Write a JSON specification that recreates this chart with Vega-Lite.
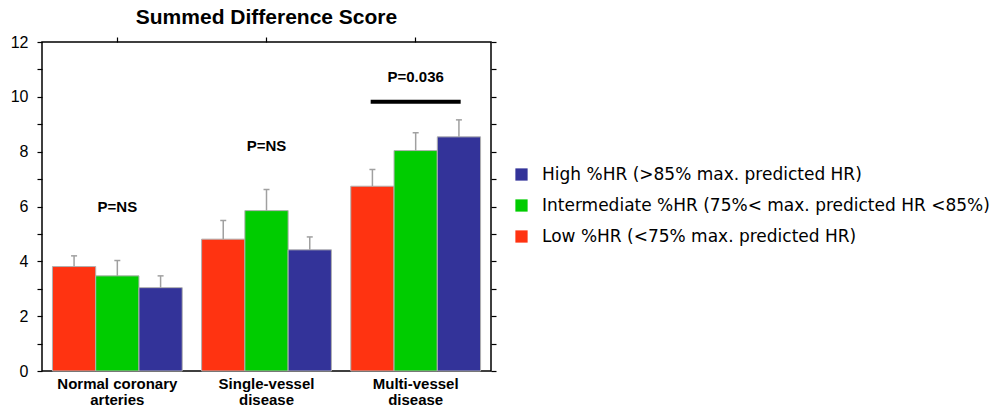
{
  "$schema": "https://vega.github.io/schema/vega-lite/v6.json",
  "width": 449,
  "height": 329,
  "autosize": "none",
  "padding": {"left": 42, "top": 42, "right": 504, "bottom": 39},
  "background": "white",
  "title": {"text": "Summed Difference Score", "font": "Liberation Sans", "fontSize": 21, "fontWeight": "bold", "color": "black", "anchor": "middle", "offset": 6},
  "config": {"view": {"stroke": "black", "strokeWidth": 1.5}},
  "datasets": {
    "bars": [
      {"group": "Normal coronary|arteries", "series": "Low %HR (<75% max. predicted HR)", "value": 3.81, "err": 4.2},
      {"group": "Normal coronary|arteries", "series": "Intermediate %HR (75%< max. predicted HR <85%)", "value": 3.47, "err": 4.03},
      {"group": "Normal coronary|arteries", "series": "High %HR (>85% max. predicted HR)", "value": 3.04, "err": 3.47},
      {"group": "Single-vessel|disease", "series": "Low %HR (<75% max. predicted HR)", "value": 4.81, "err": 5.49},
      {"group": "Single-vessel|disease", "series": "Intermediate %HR (75%< max. predicted HR <85%)", "value": 5.85, "err": 6.62},
      {"group": "Single-vessel|disease", "series": "High %HR (>85% max. predicted HR)", "value": 4.42, "err": 4.89},
      {"group": "Multi-vessel|disease", "series": "Low %HR (<75% max. predicted HR)", "value": 6.74, "err": 7.35},
      {"group": "Multi-vessel|disease", "series": "Intermediate %HR (75%< max. predicted HR <85%)", "value": 8.04, "err": 8.69},
      {"group": "Multi-vessel|disease", "series": "High %HR (>85% max. predicted HR)", "value": 8.54, "err": 9.16}
    ],
    "notes": [
      {"group": "Normal coronary|arteries", "y": 6.0, "label": "P=NS"},
      {"group": "Single-vessel|disease", "y": 8.21, "label": "P=NS"},
      {"group": "Multi-vessel|disease", "y": 10.73, "label": "P=0.036"}
    ],
    "bracket": [
      {"group": "Multi-vessel|disease", "y": 9.82}
    ]
  },
  "encoding": {
    "x": {
      "field": "group", "type": "nominal", "sort": null,
      "scale": {"domain": ["Normal coronary|arteries", "Single-vessel|disease", "Multi-vessel|disease"], "paddingInner": 0.13, "paddingOuter": 0.07},
      "axis": null
    }
  },
  "layer": [
    {
      "data": {"name": "bars"},
      "mark": {"type": "bar", "stroke": "#b0b0b0", "strokeWidth": 1},
      "encoding": {
        "x": {
          "field": "group", "type": "nominal", "sort": null,
          "axis": {"title": null, "labelAngle": 0, "labelExpr": "split(datum.label, '|')", "labelFont": "Liberation Sans", "labelFontSize": 15, "labelFontWeight": "bold", "labelColor": "black", "labelPadding": 5, "labelLineHeight": 16, "tickSize": 0, "domain": false, "labelLimit": 200}
        },
        "xOffset": {"field": "series", "type": "nominal", "sort": ["Low %HR (<75% max. predicted HR)", "Intermediate %HR (75%< max. predicted HR <85%)", "High %HR (>85% max. predicted HR)"], "scale": {"paddingInner": 0, "paddingOuter": 0}},
        "y": {
          "field": "value", "type": "quantitative",
          "scale": {"domain": [0, 12], "nice": false},
          "axis": {"title": null, "values": [0, 1, 2, 3, 4, 5, 6, 7, 8, 9, 10, 11, 12], "labelExpr": "datum.value % 2 == 0 ? datum.label : ''", "grid": false, "domain": false, "tickColor": "black", "tickSize": 5, "tickWidth": 1.2, "labelFont": "Liberation Sans", "labelFontSize": 16, "labelColor": "black", "labelPadding": 9}
        },
        "color": {
          "field": "series", "type": "nominal",
          "scale": {"domain": ["High %HR (>85% max. predicted HR)", "Intermediate %HR (75%< max. predicted HR <85%)", "Low %HR (<75% max. predicted HR)"], "range": ["#333399", "#00cc00", "#ff3311"]},
          "legend": {"title": null, "orient": "none", "legendX": 471, "legendY": 124, "symbolType": "square", "symbolSize": 150, "symbolStrokeWidth": 0, "symbolOpacity": 1, "labelFont": "DejaVu Sans", "labelFontSize": 17, "labelColor": "black", "labelLimit": 600, "rowPadding": 13, "labelOffset": 12, "padding": 0}
        }
      }
    },
    {
      "data": {"name": "bars"},
      "mark": {"type": "rule", "color": "#a0a0a0", "strokeWidth": 1.5},
      "encoding": {
        "xOffset": {"field": "series", "type": "nominal", "sort": ["Low %HR (<75% max. predicted HR)", "Intermediate %HR (75%< max. predicted HR <85%)", "High %HR (>85% max. predicted HR)"]},
        "y": {"field": "value", "type": "quantitative", "axis": null},
        "y2": {"field": "err"}
      }
    },
    {
      "data": {"name": "bars"},
      "mark": {"type": "tick", "color": "#a0a0a0", "size": 6, "thickness": 1.5, "opacity": 1},
      "encoding": {
        "xOffset": {"field": "series", "type": "nominal", "sort": ["Low %HR (<75% max. predicted HR)", "Intermediate %HR (75%< max. predicted HR <85%)", "High %HR (>85% max. predicted HR)"]},
        "y": {"field": "err", "type": "quantitative", "axis": null}
      }
    },
    {
      "data": {"name": "notes"},
      "mark": {"type": "text", "font": "Liberation Sans", "fontSize": 15, "fontWeight": "bold", "color": "black", "baseline": "middle"},
      "encoding": {
        "y": {"field": "y", "type": "quantitative", "axis": null},
        "text": {"field": "label"}
      }
    },
    {
      "data": {"name": "bracket"},
      "mark": {"type": "tick", "color": "black", "size": 90, "thickness": 4, "orient": "horizontal", "opacity": 1},
      "encoding": {
        "y": {"field": "y", "type": "quantitative", "axis": null}
      }
    },
    {
      "data": {"name": "bracket"},
      "mark": {"type": "point", "opacity": 0},
      "encoding": {
        "x": {"field": "group", "type": "nominal", "sort": null, "axis": {"orient": "top", "title": null, "labels": false, "domain": false, "tickColor": "black", "tickSize": 5, "tickWidth": 1.2}},
        "y": {"field": "y", "type": "quantitative", "axis": {"orient": "right", "title": null, "labels": false, "values": [0, 1, 2, 3, 4, 5, 6, 7, 8, 9, 10, 11, 12], "grid": false, "domain": false, "tickColor": "black", "tickSize": 5, "tickWidth": 1.2}}
      }
    }
  ],
  "resolve": {"axis": {"x": "independent", "y": "independent"}}
}
